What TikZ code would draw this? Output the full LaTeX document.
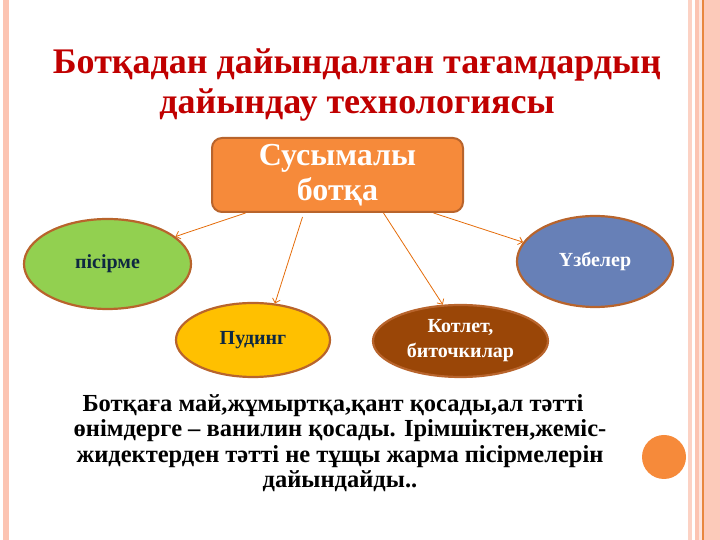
\documentclass[tikz,border=0pt]{standalone}
\usepackage{fontspec}
\setmainfont{Liberation Serif}
\usetikzlibrary{shapes.geometric, arrows.meta}

\definecolor{stripe}{RGB}{252, 196, 178}
\definecolor{stripelight}{RGB}{252, 210, 196}
\definecolor{stripeline}{RGB}{232, 135, 63}
\definecolor{titlered}{RGB}{192, 0, 0}
\definecolor{boxorange}{RGB}{246, 138, 58}
\definecolor{rimbrown}{RGB}{184, 100, 44}
\definecolor{arroworange}{RGB}{228, 108, 10}
\definecolor{leafgreen}{RGB}{146, 208, 80}
\definecolor{gold}{RGB}{255, 192, 0}
\definecolor{rust}{RGB}{154, 70, 7}
\definecolor{slate}{RGB}{103, 128, 183}
\definecolor{navy}{RGB}{14, 40, 65}

\tikzset{
	dish/.style = {ellipse, draw = rimbrown, line width = 2.2pt, inner sep = 0pt,
		align = center, font = \fontsize{20}{25}\selectfont\bfseries},
	link/.style = {->, draw = arroworange, line width = 0.8pt}
}

\begin{document}
\begin{tikzpicture}[x = 1pt, y = 1pt, > = {Straight Barb[length = 4pt, width = 8pt]}]

	\useasboundingbox (0, 0) rectangle (720, 540);
	
	% Slide borders
	
	\fill [stripe] (3, 0) rectangle (9, 540);
	\fill [stripelight] (688, 0) rectangle (692, 540);
	\fill [stripe] (695, 0) rectangle (699, 540);
	\fill [stripelight!60] (699, 0) rectangle (702, 540);
	\fill [stripeline] (702, 0) rectangle (703.5, 540);
	\fill [stripe!90!white] (703.5, 0) rectangle (720, 540);
	\fill [boxorange] (664, 83) circle (22);
	
	% Title
	
	\node [align = center, text = titlered, inner sep = 0pt,
		font = \fontsize{36}{40}\selectfont\bfseries] (title) at (357, 455)
		{Ботқадан дайындалған тағамдардың\\дайындау технологиясы};
	
	% Main box
	
	\node [draw = rimbrown, fill = boxorange, line width = 2pt, rounded corners = 10pt,
		minimum width = 251, minimum height = 74, align = center, text = white,
		font = \fontsize{32}{35}\selectfont\bfseries] (main) at (337.5, 365)
		{Сусымалы\\ботқа};
	
	% Dishes
	
	\node [dish, fill = leafgreen, text = navy, minimum width = 167, minimum height = 90]
		(pisirme) at (107.5, 276) {пісірме};
	\node [dish, fill = gold, text = navy, minimum width = 154, minimum height = 74]
		(puding) at (253, 200) {Пудинг};
	\node [dish, fill = rust, text = white, minimum width = 175, minimum height = 72]
		(kotlet) at (460.5, 199) {Котлет,\\биточкилар};
	\node [dish, fill = slate, text = white, minimum width = 156, minimum height = 91]
		(uzbeler) at (595, 278.5) {Үзбелер};
	
	% Arrows
	
	\draw [link] ([xshift = -92pt]main.south) -- (pisirme.22);
	\draw [link] ([xshift = -35pt, yshift = -4pt]main.south) -- (puding.59);
	\draw [link] ([xshift = 46pt]main.south) -- (kotlet.116);
	\draw [link] ([xshift = 96pt]main.south) -- (uzbeler.165);
	
	% Description
	
	\node [align = center, inner sep = 0pt,
		font = \fontsize{24.5}{25.5}\selectfont\bfseries] (desc) at (340, 97)
		{Ботқаға май,жұмыртқа,қант қосады,ал тәтті\hspace*{14pt}\\
		өнімдерге – ванилин қосады. Ірімшіктен,жеміс-\\
		жидектерден тәтті не тұщы жарма пісірмелерін\\
		дайындайды..};
	
\end{tikzpicture}
\end{document}
